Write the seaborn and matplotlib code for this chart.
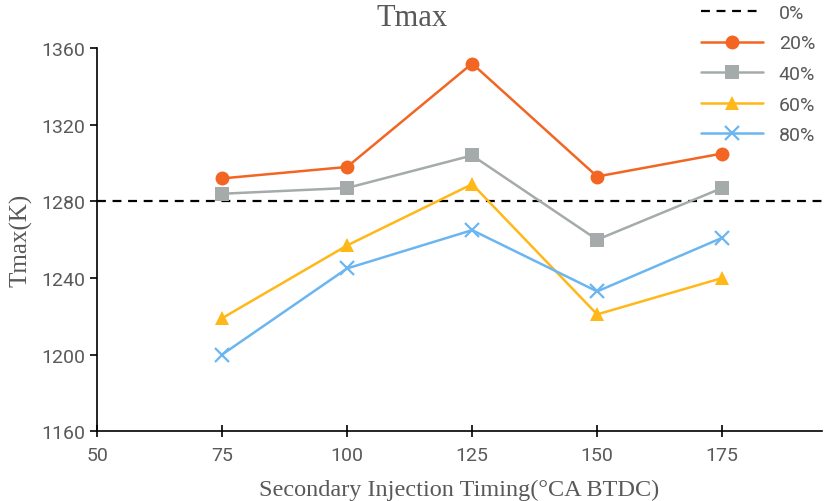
import pandas as pd
import matplotlib.pyplot as plt
import seaborn as sns

# Injection timing (°CA BTDC) and peak temperature per share of secondary injection
timing = [75, 100, 125, 150, 175]
baseline_0 = 1280
t_20 = [1292, 1298, 1352, 1293, 1305]
t_40 = [1284, 1287, 1304, 1260, 1287]
t_60 = [1219, 1257, 1289, 1221, 1240]
t_80 = [1200, 1245, 1265, 1233, 1261]

series = {"20%": t_20, "40%": t_40, "60%": t_60, "80%": t_80}
colors = {"20%": "#F26522", "40%": "#A5ABAA", "60%": "#FFB818", "80%": "#6BB6F0"}
markers = {"20%": "o", "40%": "s", "60%": "^", "80%": "x"}

df = pd.DataFrame(
    [(t, v, k) for k, vals in series.items() for t, v in zip(timing, vals)],
    columns=["timing", "tmax", "share"],
)

sns.set_style("white")
plt.rcParams["font.family"] = ["Roboto", "DejaVu Sans"]

fig = plt.figure(figsize=(8.25, 5.02), dpi=100)
ax = fig.add_axes([0.1176, 0.139, 0.879, 0.763])

ax.axhline(baseline_0, color="black", linestyle=(0, (4, 3)), linewidth=1.6, label="0%")
for name in series:
    sub = df[df["share"] == name]
    is_x = markers[name] == "x"
    sns.lineplot(data=sub, x="timing", y="tmax", ax=ax, color=colors[name],
                 marker=markers[name], markersize=10,
                 markeredgecolor=colors[name], markerfacecolor=colors[name],
                 markeredgewidth=1.6 if is_x else 0,
                 linewidth=1.8, label=name)

ax.set_xlim(50, 195)
ax.set_ylim(1160, 1360)
ax.set_xticks([50, 75, 100, 125, 150, 175])
ax.set_yticks(range(1160, 1361, 40))

for s in ["top", "right"]:
    ax.spines[s].set_visible(False)
for s in ["left", "bottom"]:
    ax.spines[s].set_color("black")
    ax.spines[s].set_linewidth(1.2)
ax.tick_params(axis="both", colors="black", labelcolor="#595959", labelsize=14,
               length=5, width=1.2, left=True, bottom=True)
ax.tick_params(axis="x", direction="inout", length=8, pad=7)

fig.text(0.5, 0.963, "Tmax", ha="center", va="center", fontfamily="Liberation Serif",
         fontsize=22, color="#595959")
ax.set_xlabel("Secondary Injection Timing(°CA BTDC)", fontfamily="Liberation Serif",
              fontsize=17.5, color="#595959", labelpad=10)
ax.set_ylabel("Tmax(K)", fontfamily="Liberation Serif", fontsize=18, color="#595959", labelpad=6)

leg = ax.legend(loc="upper right", bbox_to_anchor=(1.0, 1.01), bbox_transform=fig.transFigure,
                frameon=False, fontsize=14, labelspacing=0.65, handlelength=3.2,
                borderaxespad=0.1)
for t in leg.get_texts():
    t.set_color("#595959")

fig.savefig("out.png", dpi=100)
